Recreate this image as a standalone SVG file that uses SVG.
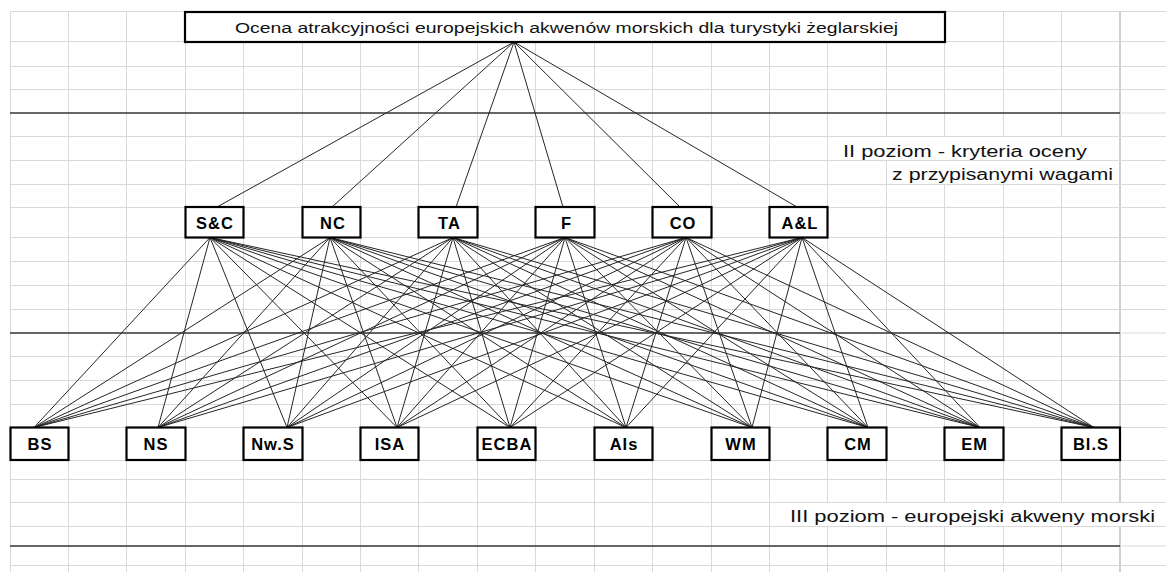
<svg xmlns="http://www.w3.org/2000/svg" width="1166" height="572" viewBox="0 0 1166 572">
<style>
.grid{stroke:#d9d9d9;stroke-width:1;fill:none}
.edge{stroke:#cfcfcf;stroke-width:2;fill:none}
.sep{stroke:#3a3a3a;stroke-width:1.5;fill:none}
.cn line{stroke:#262626;stroke-width:1}
.box{fill:#fff;stroke:#000;stroke-width:2.2}
.lbl{font-family:"Liberation Sans",Arial,sans-serif;font-weight:bold;font-size:16.5px;fill:#000;text-anchor:middle;letter-spacing:1px}
.txt{font-family:"Liberation Sans",Arial,sans-serif;fill:#111}
</style>
<rect x="0" y="0" width="1166" height="572" fill="#fff"/>
<g id="grid">
<path class="grid" d="M10.5 11.5V572M68.5 11.5V572M126.5 11.5V572M185.5 11.5V572M243.5 11.5V572M302.5 11.5V572M360.5 11.5V572M418.5 11.5V572M477.5 11.5V572M535.5 11.5V572M594.5 11.5V572M652.5 11.5V572M711.5 11.5V572M769.5 11.5V572M827.5 11.5V572M886.5 11.5V572M944.5 11.5V572M1003.5 11.5V572M1061.5 11.5V572"/>
<path class="edge" d="M1120 11.5V572"/>
<path class="grid" d="M10 11.5H1166M10 41.5H1166M10 66.5H1166M10 89.5H1166M10 113H1166M10 136.5H1166M10 160.5H1166M10 184.5H1166M10 207.5H1166M10 237.5H1166M10 261.5H1166M10 285.5H1166M10 309.5H1166M10 333H1166M10 356.5H1166M10 380.5H1166M10 404.5H1166M10 427.5H1166M10 460.5H1166M10 479.5H1166M10 502.5H1166M10 526.5H1166M10 546H1166M10 565.5H1166"/>
<rect x="829" y="137" width="290" height="23" fill="#fff"/>
<rect x="888" y="161" width="231" height="23" fill="#fff"/>
<rect x="771" y="503" width="395" height="23" fill="#fff"/>
<path class="sep" d="M10 113H1120M10 333H1120M10 546H1120"/>
</g>
<g id="connectors" class="cn">
<line x1="514" y1="42" x2="217" y2="207"/>
<line x1="514" y1="42" x2="332" y2="207"/>
<line x1="514" y1="42" x2="456" y2="207"/>
<line x1="514" y1="42" x2="563" y2="207"/>
<line x1="514" y1="42" x2="680" y2="207"/>
<line x1="514" y1="42" x2="797" y2="207"/>
<line x1="210" y1="237.5" x2="34" y2="427.5"/><line x1="210" y1="237.5" x2="158" y2="427.5"/><line x1="210" y1="237.5" x2="287" y2="427.5"/><line x1="210" y1="237.5" x2="397" y2="427.5"/><line x1="210" y1="237.5" x2="510" y2="427.5"/><line x1="210" y1="237.5" x2="626" y2="427.5"/><line x1="210" y1="237.5" x2="752" y2="427.5"/><line x1="210" y1="237.5" x2="868" y2="427.5"/><line x1="210" y1="237.5" x2="980" y2="427.5"/><line x1="210" y1="237.5" x2="1094" y2="427.5"/>
<line x1="330" y1="237.5" x2="34" y2="427.5"/><line x1="330" y1="237.5" x2="158" y2="427.5"/><line x1="330" y1="237.5" x2="287" y2="427.5"/><line x1="330" y1="237.5" x2="397" y2="427.5"/><line x1="330" y1="237.5" x2="510" y2="427.5"/><line x1="330" y1="237.5" x2="626" y2="427.5"/><line x1="330" y1="237.5" x2="752" y2="427.5"/><line x1="330" y1="237.5" x2="868" y2="427.5"/><line x1="330" y1="237.5" x2="980" y2="427.5"/><line x1="330" y1="237.5" x2="1094" y2="427.5"/>
<line x1="453" y1="237.5" x2="34" y2="427.5"/><line x1="453" y1="237.5" x2="158" y2="427.5"/><line x1="453" y1="237.5" x2="287" y2="427.5"/><line x1="453" y1="237.5" x2="397" y2="427.5"/><line x1="453" y1="237.5" x2="510" y2="427.5"/><line x1="453" y1="237.5" x2="626" y2="427.5"/><line x1="453" y1="237.5" x2="752" y2="427.5"/><line x1="453" y1="237.5" x2="868" y2="427.5"/><line x1="453" y1="237.5" x2="980" y2="427.5"/><line x1="453" y1="237.5" x2="1094" y2="427.5"/>
<line x1="565" y1="237.5" x2="34" y2="427.5"/><line x1="565" y1="237.5" x2="158" y2="427.5"/><line x1="565" y1="237.5" x2="287" y2="427.5"/><line x1="565" y1="237.5" x2="397" y2="427.5"/><line x1="565" y1="237.5" x2="510" y2="427.5"/><line x1="565" y1="237.5" x2="626" y2="427.5"/><line x1="565" y1="237.5" x2="752" y2="427.5"/><line x1="565" y1="237.5" x2="868" y2="427.5"/><line x1="565" y1="237.5" x2="980" y2="427.5"/><line x1="565" y1="237.5" x2="1094" y2="427.5"/>
<line x1="686" y1="237.5" x2="34" y2="427.5"/><line x1="686" y1="237.5" x2="158" y2="427.5"/><line x1="686" y1="237.5" x2="287" y2="427.5"/><line x1="686" y1="237.5" x2="397" y2="427.5"/><line x1="686" y1="237.5" x2="510" y2="427.5"/><line x1="686" y1="237.5" x2="626" y2="427.5"/><line x1="686" y1="237.5" x2="752" y2="427.5"/><line x1="686" y1="237.5" x2="868" y2="427.5"/><line x1="686" y1="237.5" x2="980" y2="427.5"/><line x1="686" y1="237.5" x2="1094" y2="427.5"/>
<line x1="802" y1="237.5" x2="34" y2="427.5"/><line x1="802" y1="237.5" x2="158" y2="427.5"/><line x1="802" y1="237.5" x2="287" y2="427.5"/><line x1="802" y1="237.5" x2="397" y2="427.5"/><line x1="802" y1="237.5" x2="510" y2="427.5"/><line x1="802" y1="237.5" x2="626" y2="427.5"/><line x1="802" y1="237.5" x2="752" y2="427.5"/><line x1="802" y1="237.5" x2="868" y2="427.5"/><line x1="802" y1="237.5" x2="980" y2="427.5"/><line x1="802" y1="237.5" x2="1094" y2="427.5"/>
</g>
<g id="goal">
<rect class="box" x="185" y="12" width="760" height="30"/>
<text class="txt" x="235" y="32.5" font-size="15.5" textLength="663" lengthAdjust="spacingAndGlyphs">Ocena atrakcyjności europejskich akwenów morskich dla turystyki żeglarskiej</text>
</g>
<g id="n-SC"><rect class="box" x="185.5" y="207" width="58" height="30.5"/><text class="lbl" x="215" y="229">S&amp;C</text></g>
<g id="n-NC"><rect class="box" x="302.5" y="207" width="58" height="30.5"/><text class="lbl" x="333" y="229">NC</text></g>
<g id="n-TA"><rect class="box" x="418.5" y="207" width="59" height="30.5"/><text class="lbl" x="449.5" y="229">TA</text></g>
<g id="n-F"><rect class="box" x="535.5" y="207" width="59" height="30.5"/><text class="lbl" x="566.5" y="229">F</text></g>
<g id="n-CO"><rect class="box" x="652.5" y="207" width="59" height="30.5"/><text class="lbl" x="683" y="229">CO</text></g>
<g id="n-AL"><rect class="box" x="769.5" y="207" width="58" height="30.5"/><text class="lbl" x="800" y="229">A&amp;L</text></g>
<g id="n-BS"><rect class="box" x="10.5" y="427.5" width="58" height="32.5"/><text class="lbl" x="40" y="450">BS</text></g>
<g id="n-NS"><rect class="box" x="126.5" y="427.5" width="59" height="32.5"/><text class="lbl" x="156" y="450">NS</text></g>
<g id="n-NwS"><rect class="box" x="243.5" y="427.5" width="59" height="32.5"/><text class="lbl" x="273" y="450">Nw.S</text></g>
<g id="n-ISA"><rect class="box" x="360.5" y="427.5" width="58" height="32.5"/><text class="lbl" x="390" y="450">ISA</text></g>
<g id="n-ECBA"><rect class="box" x="477.5" y="427.5" width="58" height="32.5"/><text class="lbl" x="507" y="450">ECBA</text></g>
<g id="n-AIs"><rect class="box" x="594.5" y="427.5" width="58" height="32.5"/><text class="lbl" x="624" y="450">AIs</text></g>
<g id="n-WM"><rect class="box" x="711.5" y="427.5" width="58" height="32.5"/><text class="lbl" x="741" y="450">WM</text></g>
<g id="n-CM"><rect class="box" x="827.5" y="427.5" width="59" height="32.5"/><text class="lbl" x="858" y="450">CM</text></g>
<g id="n-EM"><rect class="box" x="944.5" y="427.5" width="59" height="32.5"/><text class="lbl" x="974.5" y="450">EM</text></g>
<g id="n-BlS"><rect class="box" x="1061.5" y="427.5" width="58.5" height="32.5"/><text class="lbl" x="1091" y="450">Bl.S</text></g>
<g id="labels">
<text class="txt" x="843" y="157" font-size="16" textLength="244" lengthAdjust="spacingAndGlyphs">II poziom - kryteria oceny</text>
<text class="txt" x="892" y="179.5" font-size="16" textLength="221" lengthAdjust="spacingAndGlyphs">z przypisanymi wagami</text>
<text class="txt" x="790" y="522" font-size="16" textLength="365" lengthAdjust="spacingAndGlyphs">III poziom - europejski akweny morski</text>
</g>
</svg>
